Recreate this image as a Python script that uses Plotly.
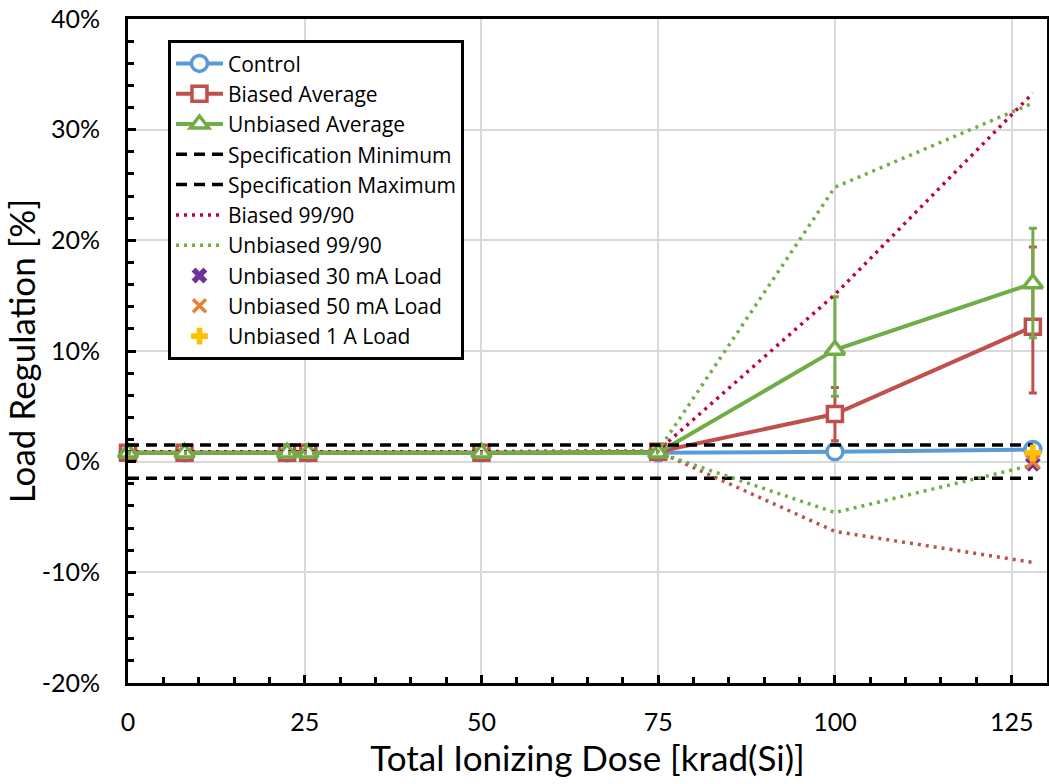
import plotly.graph_objects as go

# ---- data (values in %) ----
dose = [0, 8, 22.5, 25.5, 50, 75, 100, 128]
control = [0.8, 0.8, 0.8, 0.8, 0.8, 0.8, 0.9, 1.1]
biased_avg = [0.8, 0.8, 0.8, 0.8, 0.8, 0.9, 4.3, 12.2]
biased_err_plus = [0, 0, 0, 0, 0, 0, 2.4, 7.2]
biased_err_minus = [0, 0, 0, 0, 0, 0, 2.4, 6.0]
unbiased_avg = [0.8, 0.8, 0.8, 0.8, 0.8, 0.8, 10.1, 16.1]
unbiased_err_plus = [0, 0, 0, 0, 0, 0, 4.8, 5.0]
unbiased_err_minus = [0, 0, 0, 0, 0, 0, 4.2, 4.9]
spec_min = [-1.5] * 8
spec_max = [1.5] * 8
biased_9990_upper = [0.9, 0.9, 0.9, 0.9, 0.9, 1.0, 15.1, 33.3]
biased_9990_lower = [0.8, 0.8, 0.8, 0.8, 0.8, 0.9, -6.3, -9.1]
unbiased_9990_upper = [0.8, 0.8, 0.8, 0.8, 0.8, 1.0, 24.8, 32.4]
unbiased_9990_lower = [0.8, 0.8, 0.8, 0.8, 0.8, 0.8, -4.6, -0.3]
load_dose = [128]
load_30mA = [-0.2]
load_50mA = [0.0]
load_1A = [0.8]

y_ticks = [-20, -10, 0, 10, 20, 30, 40]
y_ticktext = ["-20%", "-10%", "0%", "10%", "20%", "30%", "40%"]
x_ticks = [0, 25, 50, 75, 100, 125]

BLUE = "#5B9BD5"
RED = "#C0504D"
GREEN = "#70AD47"
CRIMSON = "#C0003F"
PURPLE = "#7030A0"
ORANGE = "#ED7D31"
YELLOW = "#FFC000"
FONT = "Lato"
LEG_FONT = "Open Sans"
DOT = "3px,5px"
DASH = "11px,7px"

fig = go.Figure()

fig.add_trace(go.Scatter(
    x=dose, y=control, name="Control", mode="lines+markers", cliponaxis=False,
    line=dict(color=BLUE, width=4),
    marker=dict(symbol="circle", size=16, color="white", line=dict(color=BLUE, width=3.5)),
))
fig.add_trace(go.Scatter(
    x=dose, y=biased_avg, name="Biased Average", mode="lines+markers", cliponaxis=False,
    line=dict(color=RED, width=4),
    marker=dict(symbol="square", size=15, color="white", line=dict(color=RED, width=3.5)),
    error_y=dict(type="data", symmetric=False, array=biased_err_plus,
                 arrayminus=biased_err_minus, color=RED, thickness=3, width=4),
))
fig.add_trace(go.Scatter(
    x=dose, y=unbiased_avg, name="Unbiased Average", mode="lines+markers", cliponaxis=False,
    line=dict(color=GREEN, width=4),
    marker=dict(symbol="triangle-up", size=17, color="white", line=dict(color=GREEN, width=3.5)),
    error_y=dict(type="data", symmetric=False, array=unbiased_err_plus,
                 arrayminus=unbiased_err_minus, color=GREEN, thickness=3, width=4),
))
fig.add_trace(go.Scatter(
    x=dose, y=spec_min, name="Specification Minimum", mode="lines", cliponaxis=False,
    line=dict(color="black", width=3.5, dash=DASH),
))
fig.add_trace(go.Scatter(
    x=dose, y=spec_max, name="Specification Maximum", mode="lines", cliponaxis=False,
    line=dict(color="black", width=3.5, dash=DASH),
))
fig.add_trace(go.Scatter(
    x=dose, y=biased_9990_upper, name="Biased 99/90", mode="lines", cliponaxis=False,
    line=dict(color=CRIMSON, width=3.5, dash=DOT),
))
fig.add_trace(go.Scatter(
    x=dose, y=biased_9990_lower, name="Biased 99/90 (lower)", mode="lines", cliponaxis=False,
    line=dict(color=RED, width=3.5, dash=DOT), showlegend=False,
))
fig.add_trace(go.Scatter(
    x=dose, y=unbiased_9990_upper, name="Unbiased 99/90", mode="lines", cliponaxis=False,
    line=dict(color=GREEN, width=3.5, dash=DOT),
))
fig.add_trace(go.Scatter(
    x=dose, y=unbiased_9990_lower, name="Unbiased 99/90 (lower)", mode="lines", cliponaxis=False,
    line=dict(color=GREEN, width=3.5, dash=DOT), showlegend=False,
))
fig.add_trace(go.Scatter(
    x=load_dose, y=load_30mA, name="Unbiased 30 mA Load", mode="markers", cliponaxis=False,
    marker=dict(symbol="x", size=14, color=PURPLE),
))
fig.add_trace(go.Scatter(
    x=load_dose, y=load_50mA, name="Unbiased 50 mA Load", mode="markers", cliponaxis=False,
    marker=dict(symbol="x-thin", size=13, color=ORANGE, line=dict(color=ORANGE, width=3.5)),
))
fig.add_trace(go.Scatter(
    x=load_dose, y=load_1A, name="Unbiased 1 A Load", mode="markers", cliponaxis=False,
    marker=dict(symbol="cross", size=14, color=YELLOW),
))

fig.update_layout(
    width=1049, height=784,
    margin=dict(l=128, r=2, t=19, b=101, autoexpand=False),
    paper_bgcolor="white", plot_bgcolor="white",
    font=dict(family=FONT, color="black"),
    showlegend=True,
    legend=dict(
        x=0.0435, y=0.968, xanchor="left", yanchor="top",
        bgcolor="white", bordercolor="black", borderwidth=3,
        font=dict(family=LEG_FONT, size=21, color="black"),
        tracegroupgap=0, itemwidth=47,
    ),
    xaxis=dict(
        range=[0, 130], tickvals=x_ticks, ticks="inside", ticklen=8, tickwidth=3,
        tickcolor="black", showline=True, linecolor="black", linewidth=3, mirror=True,
        showgrid=True, gridcolor="#D9D9D9", gridwidth=1.5, zeroline=False, automargin=False,
        tickfont=dict(size=25, family=FONT), ticklabelstandoff=15,
        minor=dict(dtick=5, tick0=0, ticks="inside", ticklen=6, tickwidth=3,
                   tickcolor="black", showgrid=False),
        title=dict(text="Total Ionizing Dose [krad(Si)]", font=dict(size=35, family=FONT), standoff=10),
    ),
    yaxis=dict(
        range=[-20, 40], tickvals=y_ticks, ticktext=y_ticktext, ticks="inside",
        ticklen=8, tickwidth=3, tickcolor="black", showline=True, linecolor="black",
        linewidth=3, mirror=True, showgrid=True, gridcolor="#D9D9D9", gridwidth=1.5,
        zeroline=False, automargin=False, tickfont=dict(size=25, family=FONT), ticklabelstandoff=20,
        minor=dict(dtick=2, tick0=0, ticks="inside", ticklen=6, tickwidth=3,
                   tickcolor="black", showgrid=False),
        title=dict(text="Load Regulation [%]", font=dict(size=35, family=FONT), standoff=8),
    ),
)

fig.write_html(
    "out.html",
    config={"displayModeBar": False},
    post_script="document.body.style.margin='0px';document.body.style.overflow='hidden';",
)
